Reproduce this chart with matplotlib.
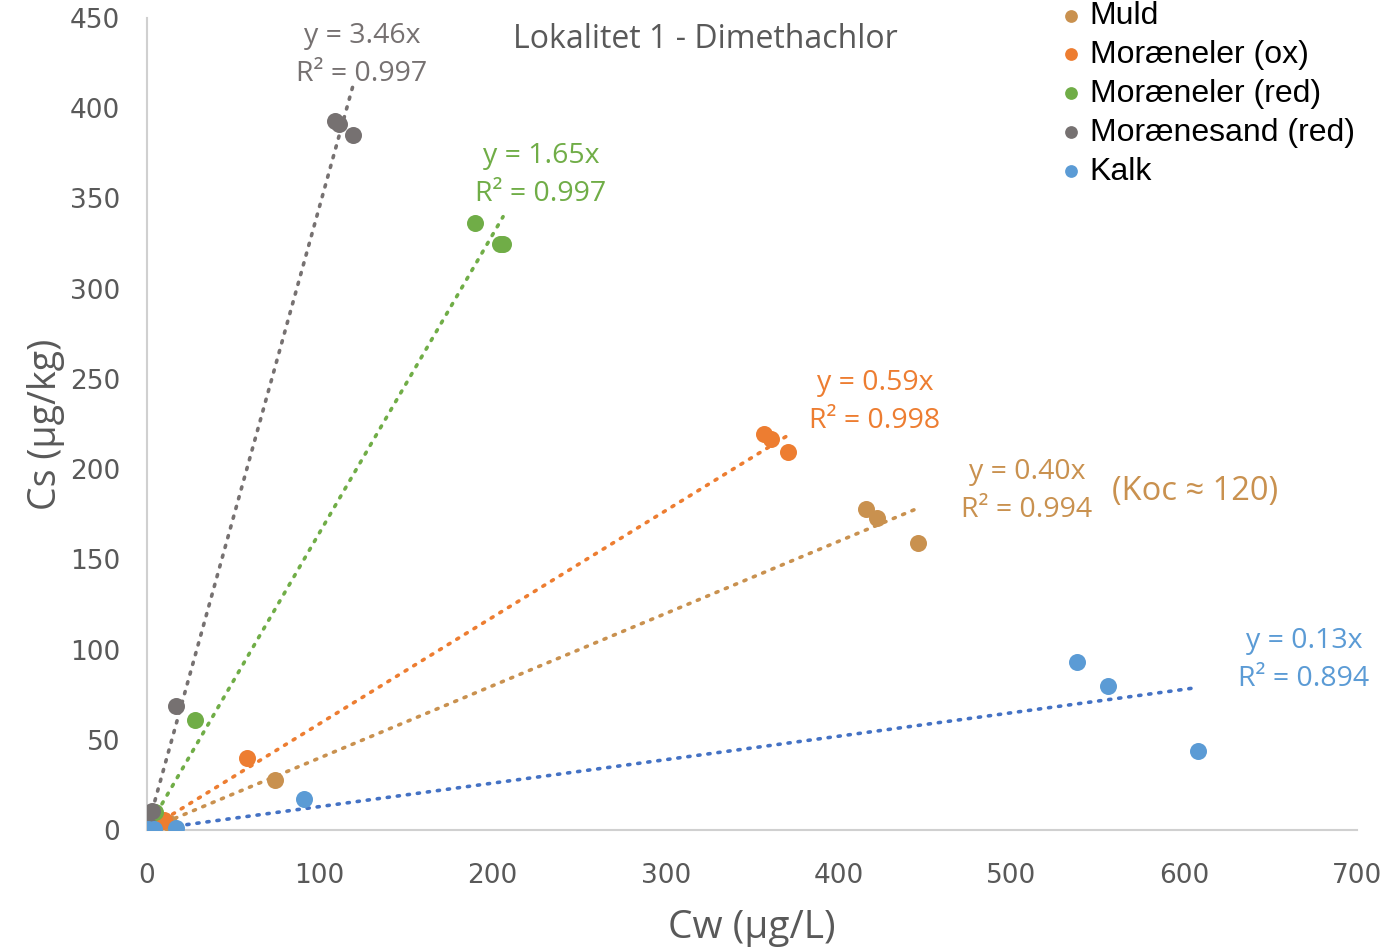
import matplotlib.pyplot as plt
import numpy as np

# Sorption data: Cw (ug/L) vs Cs (ug/kg) per soil type
series_names = ['Muld', 'Moræneler (ox)', 'Moræneler (red)', 'Morænesand (red)', 'Kalk']
marker_colors = ['#C9914F', '#ED7D31', '#70AD47', '#767171', '#5B9BD5']
line_colors = ['#C9914F', '#ED7D31', '#70AD47', '#767171', '#4472C4']

muld_cw = [1, 13, 74, 416, 422, 446]
muld_cs = [1, 4, 28, 178, 173, 159]

ox_cw = [1, 7.5, 10, 58, 357, 361, 371]
ox_cs = [1, 4.5, 5.5, 40, 219.5, 216.5, 209.5]

red_cw = [1, 4.5, 28, 190, 204, 206]
red_cs = [2, 10, 61, 336.5, 325, 325]

sand_cw = [0.5, 3, 17, 109, 111, 119]
sand_cs = [3, 10.5, 68.5, 393, 391, 385]

kalk_cw = [0.5, 4, 17, 91, 538, 556, 608]
kalk_cs = [0.5, 0.5, 1, 17, 93, 80, 44]

slopes = [0.40, 0.59, 1.65, 3.46, 0.13]
r2 = [0.994, 0.998, 0.997, 0.997, 0.894]

cw_all = [muld_cw, ox_cw, red_cw, sand_cw, kalk_cw]
cs_all = [muld_cs, ox_cs, red_cs, sand_cs, kalk_cs]

fig = plt.figure(figsize=(13.98, 9.47), dpi=100)
ax = fig.add_axes([0.105, 0.1235, 0.866, 0.8575])

# trendlines first so markers sit on top
for cw, k, c in zip(cw_all, slopes, line_colors):
    xs = np.array([0, max(cw)])
    ax.plot(xs, k * xs, color=c, linestyle=(0, (0.6, 2.2)), linewidth=2.6,
            dash_capstyle='round', zorder=2)

for cw, cs, name, c in zip(cw_all, cs_all, series_names, marker_colors):
    ax.scatter(cw, cs, s=150, color=c, label=name, zorder=3, linewidths=0)

ax.set_xlim(0, 700)
ax.set_ylim(0, 450)
ax.set_xticks(np.arange(0, 701, 100))
ax.set_yticks(np.arange(0, 451, 50))
ax.tick_params(length=0, labelsize=19, labelcolor='#595959')
ax.tick_params(axis='x', pad=24)
ax.tick_params(axis='y', pad=19)
for lab in ax.get_xticklabels() + ax.get_yticklabels():
    lab.set_family('DejaVu Sans')

for side in ['top', 'right']:
    ax.spines[side].set_visible(False)
for side in ['left', 'bottom']:
    ax.spines[side].set_color('#D0D0D0')
    ax.spines[side].set_linewidth(1.5)

ax.set_xlabel('Cw (µg/L)', fontsize=28, color='#595959', family='Open Sans', labelpad=14)
ax.set_ylabel('Cs (µg/kg)', fontsize=27, color='#595959', family='Open Sans', labelpad=4)

fig.text(705 / 1398, 1 - 40 / 947, 'Lokalitet 1 - Dimethachlor', ha='center', va='center',
         fontsize=23, color='#595959', family='Open Sans')

# equation labels
eq_pos = [(1027, 472), (875, 383), (541, 156), (362, 36), (1304, 641)]
for (px, py), k, r, c in zip(eq_pos, slopes, r2, marker_colors):
    fx = px / 1398
    fy = 1 - py / 947
    fy2 = 1 - (py + 38) / 947
    fig.text(fx, fy, f'y = {k:.2f}x', ha='center', va='center', fontsize=20.5, color=c, family='Open Sans')
    fig.text(fx, fy2, f'R² = {r:.3f}', ha='center', va='center', fontsize=20.5, color=c, family='Open Sans')

fig.text(1195 / 1398, 1 - 491 / 947, '(Koc ≈ 120)', ha='center', va='center', fontsize=23.5,
         color=marker_colors[0], family='Open Sans')

leg = fig.legend(loc='upper left', bbox_to_anchor=(1026 / 1398, 1.0125), frameon=False,
                 prop={'family': 'Liberation Sans', 'size': 23}, handletextpad=-0.41,
                 labelspacing=0.28, markerscale=0.75, borderaxespad=0)

fig.savefig('out.png', dpi=100)
